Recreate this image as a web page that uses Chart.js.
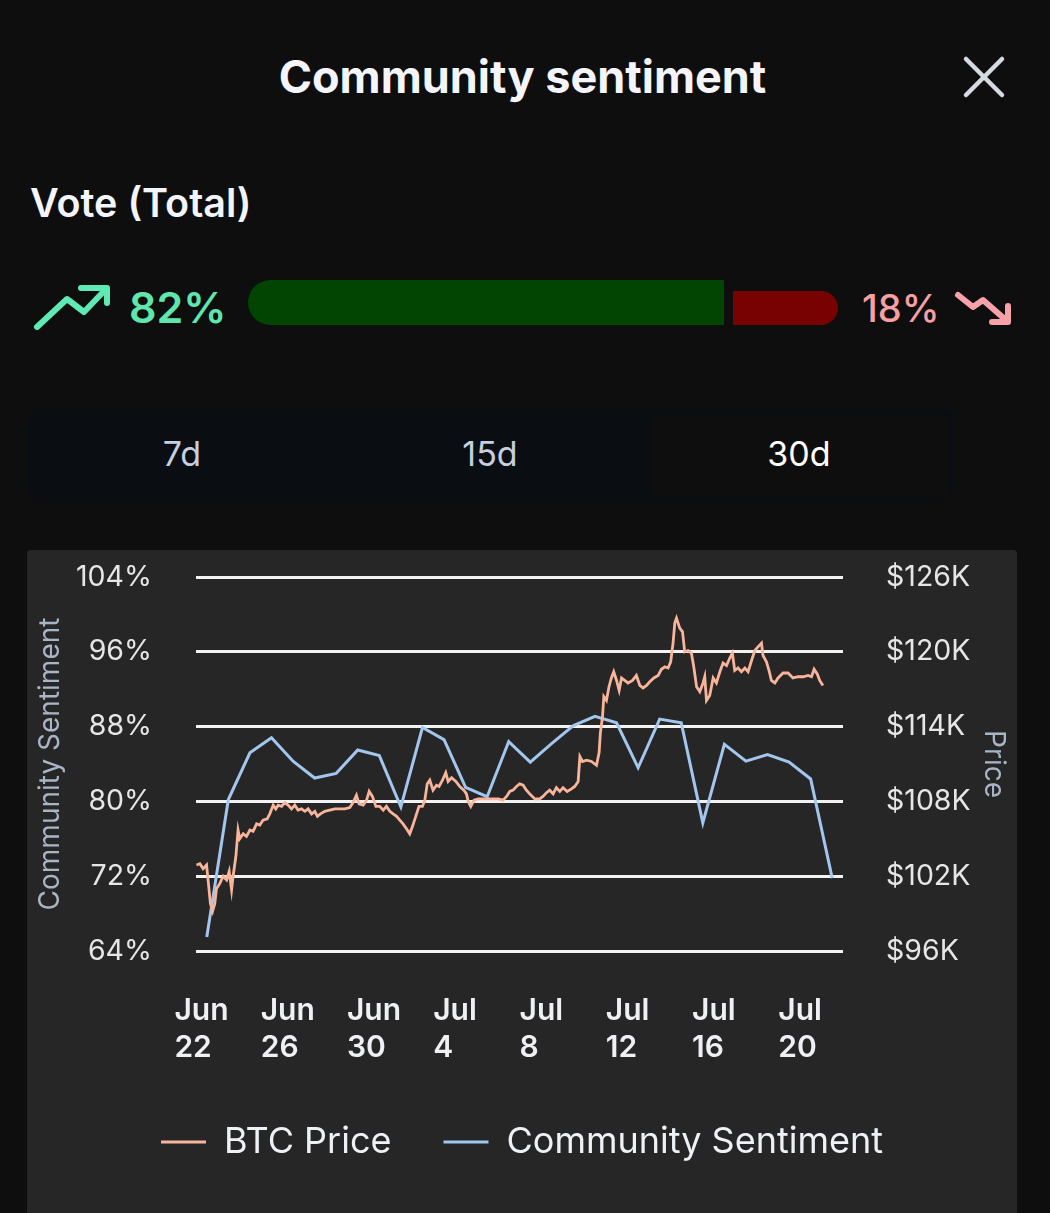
<!DOCTYPE html>
<html>
<head>
<meta charset="utf-8">
<title>Community sentiment</title>
<script src="https://cdn.jsdelivr.net/npm/chart.js@4.4.1/dist/chart.umd.min.js"></script>
<style>
html, body { margin: 0; padding: 0; background: #0e0e0e; }
body { width: 1050px; height: 1213px; overflow: hidden; position: relative; font-family: Inter, sans-serif; color: #f3f5fa; }
.abs { position: absolute; line-height: 1; white-space: nowrap; }
#title { left: 0; width: 1045px; top: 54px; text-align: center; font-size: 45px; font-weight: 700; }
#vote { left: 30px; top: 184px; font-size: 39.5px; font-weight: 600; }
#upPct { left: 129px; top: 286px; font-size: 43px; font-weight: 600; color: #5ee6ad; }
#downPct { left: 862px; top: 289px; font-size: 38px; font-weight: 500; color: #f6a0a3; }
#barUp { position: absolute; left: 248px; top: 280px; width: 476px; height: 45px; border-radius: 22.5px 0 0 22.5px; background: #024402; }
#barDown { position: absolute; left: 733px; top: 291px; width: 105px; height: 34px; border-radius: 0 17px 17px 0; background: #780101; }
#tabs { position: absolute; left: 28px; top: 410px; width: 925px; height: 88px; border-radius: 10px; background: #0a0d12; }
#tabSel { position: absolute; left: 650px; top: 416px; width: 300px; height: 80px; border-radius: 8px; background: #0e0e0e; }
.tab { position: absolute; top: 437px; width: 308px; text-align: center; font-size: 34px; line-height: 1; color: #c6cedf; }
#panel { position: absolute; left: 27px; top: 550px; width: 990px; height: 700px; background: #262626; border-radius: 4px; }
#icons { position: absolute; left: 0; top: 0; }
</style>
</head>
<body>
<div id="title" class="abs">Community sentiment</div>
<div id="vote" class="abs">Vote (Total)</div>
<div id="upPct" class="abs">82%</div>
<div id="barUp"></div>
<div id="barDown"></div>
<div id="downPct" class="abs">18%</div>
<svg id="icons" width="1050" height="340">
  <g fill="none" stroke-linecap="round" stroke-linejoin="round">
    <line x1="966" y1="59" x2="1002" y2="95" stroke="#d6dae2" stroke-width="4.5"/>
    <line x1="1002" y1="59" x2="966" y2="95" stroke="#d6dae2" stroke-width="4.5"/>
    <polyline points="37,327 67,299 84,312 106,289" stroke="#5fe9b4" stroke-width="6"/>
    <polyline points="81,288 107,288 107,303" stroke="#5fe9b4" stroke-width="6"/>
    <polyline points="958,295 973,307 983,300 1007,321" stroke="#f7a1ab" stroke-width="6"/>
    <polyline points="992,322 1008,322 1008,306" stroke="#f7a1ab" stroke-width="6"/>
  </g>
</svg>
<div id="tabs"></div>
<div id="tabSel"></div>
<div class="tab" style="left:28px">7d</div>
<div class="tab" style="left:336px">15d</div>
<div class="tab" style="left:645px;color:#ffffff">30d</div>
<div id="panel"><canvas id="grafico" width="990" height="700"></canvas></div>

<script>
// x positions are days since Jun 22 00:00
const xTickDays = [0, 4, 8, 12, 16, 20, 24, 28];
const xTickLabels = [['Jun', '22'], ['Jun', '26'], ['Jun', '30'], ['Jul', '4'], ['Jul', '8'], ['Jul', '12'], ['Jul', '16'], ['Jul', '20']];
const sentTicks = [64, 72, 80, 88, 96, 104];
const priceTicks = [96, 102, 108, 114, 120, 126];

// community sentiment, one vote total per day (%)
const sentimentFirstDay = 1.5;
const sentimentValues = [
    65.5, 80.2, 85.2, 86.8, 84.3, 82.5, 83.0, 85.5, 84.9, 79.4,
    87.9, 86.6, 81.5, 80.5, 86.4, 84.2, 86.2, 88.1, 89.1, 88.4,
    83.6, 88.8, 88.4, 77.7, 86.1, 84.3, 85.0, 84.2, 82.4, 71.8
];

// BTC price samples: [day, price in $K]
const btcPrice = [
    [1.02,102.9],[1.18,103.0],[1.33,102.6],[1.49,102.9],[1.56,101.7],[1.67,99.8],[1.77,99.2],[1.87,99.8],[1.95,101.0],[2.10,101.4],
    [2.26,102.0],[2.42,101.7],[2.54,102.4],[2.65,100.9],[2.72,102.0],[2.85,103.6],[2.95,105.7],[3.03,105.0],[3.19,105.4],[3.34,105.2],
    [3.50,105.7],[3.65,105.6],[3.81,106.2],[3.96,106.1],[4.11,106.5],[4.30,106.6],[4.42,107.0],[4.58,107.7],[4.70,107.4],[4.81,107.7],
    [4.97,107.6],[5.12,107.9],[5.27,107.7],[5.43,107.4],[5.58,107.7],[5.73,107.3],[5.89,107.4],[6.05,107.2],[6.20,107.4],[6.36,107.0],
    [6.51,107.2],[6.63,106.8],[6.77,107.0],[6.97,107.2],[7.20,107.3],[7.44,107.4],[7.67,107.4],[7.90,107.4],[8.13,107.5],[8.28,107.9],
    [8.44,108.5],[8.56,107.8],[8.75,107.7],[8.91,108.1],[9.03,108.8],[9.18,108.4],[9.34,107.6],[9.52,107.6],[9.68,107.3],[9.83,107.6],
    [9.99,107.2],[10.14,107.0],[10.30,106.8],[10.45,106.5],[10.60,106.2],[10.76,105.8],[10.91,105.4],[11.04,106.0],[11.19,106.8],[11.34,107.6],
    [11.50,107.6],[11.61,108.1],[11.72,109.4],[11.84,109.7],[11.99,108.9],[12.15,109.3],[12.27,109.2],[12.43,109.7],[12.58,110.3],[12.69,109.6],
    [12.85,109.9],[13.05,109.6],[13.23,109.2],[13.42,108.9],[13.54,108.6],[13.62,108.0],[13.74,107.6],[13.89,108.1],[14.08,108.2],[14.31,108.2],
    [14.54,108.2],[14.78,108.2],[15.01,108.2],[15.24,108.1],[15.40,108.4],[15.55,108.8],[15.70,108.9],[15.86,109.2],[16.01,109.4],[16.17,109.3],
    [16.32,108.9],[16.48,108.6],[16.71,108.2],[16.94,108.2],[17.09,108.4],[17.25,108.7],[17.40,108.9],[17.56,108.6],[17.71,109.1],[17.87,108.8],
    [18.02,109.1],[18.21,108.8],[18.41,109.0],[18.56,109.2],[18.72,109.6],[18.80,111.6],[18.92,111.2],[19.11,111.3],[19.34,111.2],[19.57,110.9],
    [19.69,111.9],[19.75,113.5],[19.85,114.8],[19.91,116.4],[20.03,116.1],[20.15,117.2],[20.26,117.9],[20.37,118.4],[20.50,117.7],[20.62,116.9],
    [20.73,117.9],[20.88,117.7],[21.03,117.5],[21.24,117.7],[21.42,118.1],[21.58,117.3],[21.73,117.1],[21.89,117.3],[22.04,117.6],[22.23,117.9],
    [22.43,118.1],[22.58,118.6],[22.74,118.8],[22.89,118.7],[23.01,119.2],[23.12,120.7],[23.20,122.3],[23.28,122.7],[23.43,121.9],[23.56,121.6],
    [23.66,120.0],[23.82,120.1],[23.97,119.9],[24.08,118.8],[24.21,117.2],[24.36,116.8],[24.51,117.5],[24.59,118.0],[24.67,116.1],[24.82,116.5],
    [24.98,117.9],[25.13,117.5],[25.29,118.4],[25.44,119.1],[25.60,118.9],[25.75,119.5],[25.87,119.9],[25.98,118.5],[26.13,118.7],[26.29,118.4],
    [26.45,118.7],[26.60,118.4],[26.76,119.3],[26.91,120.1],[27.06,120.4],[27.22,120.7],[27.29,119.7],[27.45,119.2],[27.57,118.5],[27.68,117.7],
    [27.84,117.5],[27.99,117.9],[28.22,118.3],[28.45,118.3],[28.68,117.9],[28.92,118.0],[29.15,118.0],[29.38,118.1],[29.54,118.0],[29.66,118.6],
    [29.81,118.2],[29.92,117.7],[30.07,117.3]
];

// fixed axis sizes so the plot area lands where it should
function fijarAncho(ancho){
    return s => { s.width = ancho; s.paddingTop = 0; s.paddingBottom = 0; };
}

function dibujar(){
    Chart.defaults.font.family = 'Inter';
    let ctx = document.getElementById('grafico').getContext('2d');
    let datos = {
        datasets: [{
            label: 'BTC Price',
            data: btcPrice.map(p => ({x: p[0], y: p[1]})),
            yAxisID: 'yPrice',
            borderColor: '#f8b59b',
            backgroundColor: '#f8b59b',
            borderWidth: 2.8,
            pointRadius: 0,
            tension: 0
        }, {
            label: 'Community Sentiment',
            data: sentimentValues.map((v, i) => ({x: sentimentFirstDay + i, y: v})),
            yAxisID: 'ySent',
            borderColor: '#a2c6ee',
            backgroundColor: '#a2c6ee',
            borderWidth: 3,
            pointRadius: 0,
            tension: 0
        }]
    };
    let opciones = {
        responsive: false,
        animation: false,
        events: [],
        layout: { padding: { top: 27, bottom: 80, left: 0, right: 0 } },
        plugins: {
            tooltip: { enabled: false },
            legend: {
                position: 'bottom',
                labels: {
                    usePointStyle: true,
                    pointStyle: 'line',
                    pointStyleWidth: 45,
                    padding: 52,
                    color: '#eef1f6',
                    font: { size: 36 }
                }
            }
        },
        scales: {
            x: {
                type: 'linear',
                min: 1,
                max: 31,
                afterBuildTicks: s => { s.ticks = xTickDays.map(v => ({value: v})); },
                afterFit: s => { s.height = 121; s.paddingLeft = 0; s.paddingRight = 0; },
                grid: { display: false, drawTicks: false },
                border: { display: false },
                ticks: {
                    autoSkip: false,
                    maxRotation: 0,
                    minRotation: 0,
                    align: 'start',
                    padding: 41,
                    color: '#eef0f4',
                    font: { size: 30, weight: '600', lineHeight: 1.233 },
                    callback: v => xTickLabels[xTickDays.indexOf(v)]
                }
            },
            ySent: {
                position: 'left',
                min: sentTicks[0],
                max: sentTicks[sentTicks.length - 1],
                afterBuildTicks: s => { s.ticks = sentTicks.map(v => ({value: v})); },
                afterFit: fijarAncho(169),
                grid: { color: '#f2f2f2', lineWidth: 3, drawTicks: false },
                border: { display: false },
                ticks: { padding: 44, color: '#e6e6e6', font: { size: 28.5 }, callback: v => v + '%' },
                title: { display: true, text: 'Community Sentiment', color: '#a9b5c7', font: { size: 28 }, padding: { top: 7 } }
            },
            yPrice: {
                position: 'right',
                min: priceTicks[0],
                max: priceTicks[priceTicks.length - 1],
                afterBuildTicks: s => { s.ticks = priceTicks.map(v => ({value: v})); },
                afterFit: fijarAncho(174),
                grid: { display: false, drawTicks: false },
                border: { display: false },
                ticks: { padding: 43, color: '#e6e6e6', font: { size: 28.5 }, callback: v => '$' + v + 'K' },
                title: { display: true, text: 'Price', color: '#a9b5c7', font: { size: 28 }, padding: { top: 7 } }
            }
        }
    };
    new Chart(ctx, { type: 'line', data: datos, options: opciones });
}

document.fonts.load('28px Inter').then(dibujar, dibujar);
</script>
</body>
</html>
